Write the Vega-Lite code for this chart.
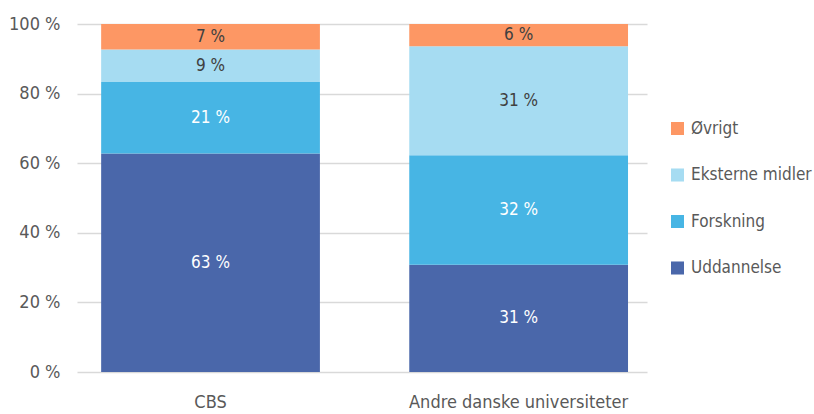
{
  "$schema": "https://vega.github.io/schema/vega-lite/v6.json",
  "autosize": {"type": "none"},
  "width": 570,
  "height": 348,
  "padding": {"left": 77, "top": 24, "right": 167, "bottom": 42},
  "background": "white",
  "config": {
    "view": {"stroke": null},
    "font": "DejaVu Sans Condensed"
  },
  "data": {
    "values": [
      {"inst": "CBS", "seg": "Uddannelse", "k": 1, "v": 62.8, "label": "63 %"},
      {"inst": "CBS", "seg": "Forskning", "k": 2, "v": 20.5, "label": "21 %"},
      {"inst": "CBS", "seg": "Eksterne midler", "k": 3, "v": 9.4, "label": "9 %"},
      {"inst": "CBS", "seg": "Øvrigt", "k": 4, "v": 7.3, "label": "7 %"},
      {"inst": "Andre danske universiteter", "seg": "Uddannelse", "k": 1, "v": 30.8, "label": "31 %"},
      {"inst": "Andre danske universiteter", "seg": "Forskning", "k": 2, "v": 31.5, "label": "32 %"},
      {"inst": "Andre danske universiteter", "seg": "Eksterne midler", "k": 3, "v": 31.3, "label": "31 %"},
      {"inst": "Andre danske universiteter", "seg": "Øvrigt", "k": 4, "v": 6.4, "label": "6 %"}
    ]
  },
  "transform": [
    {"stack": "v", "groupby": ["inst"], "sort": [{"field": "k", "order": "ascending"}], "as": ["y0", "y1"]}
  ],
  "encoding": {
    "x": {
      "field": "inst", "type": "nominal", "sort": ["CBS", "Andre danske universiteter"],
      "scale": {"paddingInner": 0.29, "paddingOuter": 0.07, "align": 0.56},
      "axis": {"title": null, "labelAngle": 0, "domain": false, "ticks": false, "labelPadding": 21, "labelFontSize": 18, "labelColor": "#595959", "labelLimit": 400}
    }
  },
  "layer": [
    {
      "mark": {"type": "bar"},
      "encoding": {
        "y": {
          "field": "y0", "type": "quantitative",
          "scale": {"domain": [0, 100]},
          "axis": {"title": null, "values": [0, 20, 40, 60, 80, 100], "labelExpr": "datum.value + ' %'", "domain": false, "ticks": false, "labelPadding": 17, "labelFontSize": 18, "labelColor": "#595959", "gridColor": "#d9d9d9", "gridWidth": 1.5}
        },
        "y2": {"field": "y1"},
        "color": {
          "field": "seg", "type": "nominal",
          "scale": {"domain": ["Øvrigt", "Eksterne midler", "Forskning", "Uddannelse"], "range": ["#fd9764", "#a6dcf2", "#47b5e4", "#4a67aa"]},
          "legend": {"title": null, "orient": "none", "legendX": 592, "legendY": 96, "symbolType": "square", "symbolSize": 170, "symbolStrokeWidth": 0, "labelFontSize": 17, "labelColor": "#595959", "rowPadding": 28.5, "labelOffset": 5, "labelLimit": 200}
        }
      }
    },
    {
      "transform": [{"calculate": "(datum.y0 + datum.y1) / 2", "as": "ym"}],
      "mark": {"type": "text", "fontSize": 17, "baseline": "middle"},
      "encoding": {
        "y": {"field": "ym", "type": "quantitative"},
        "text": {"field": "label"},
        "color": {
          "condition": {"test": "datum.seg === 'Uddannelse' || datum.seg === 'Forskning'", "value": "#ffffff"},
          "value": "#404040"
        }
      }
    }
  ]
}
